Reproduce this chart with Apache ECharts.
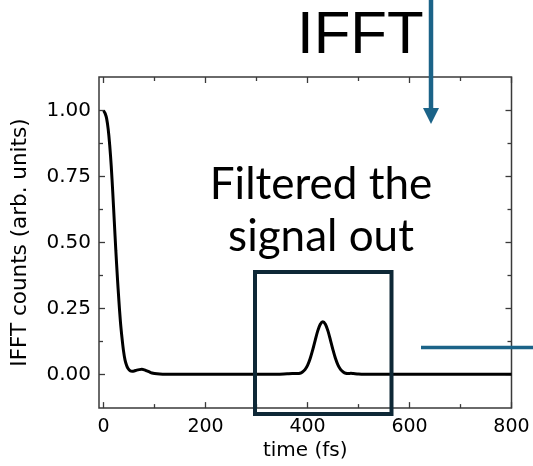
<!DOCTYPE html>
<html>
<head>
<meta charset="utf-8">
<script src="https://cdn.jsdelivr.net/npm/echarts@6/dist/echarts.min.js"></script>
<style>html,body{margin:0;padding:0;background:#fff}#c{width:533px;height:466px}</style>
</head>
<body>
<div id="c"></div>
<script>
// ---- data ----
const timeFs = [0, 3, 6, 9, 12, 15, 18, 21, 24, 27, 30, 33, 36, 39, 42, 45, 48, 52, 56, 60, 65, 70, 75, 80, 85, 90, 95, 100, 110, 120, 140, 160, 200, 250, 300, 340, 360, 370, 380, 385, 390, 395, 400, 405, 410, 415, 420, 425, 430, 435, 440, 445, 450, 455, 460, 465, 470, 475, 480, 485, 490, 500, 510, 530, 560, 600, 650, 700, 750, 800];
const ifftCounts = [1.0, 0.99, 0.97, 0.93, 0.87, 0.79, 0.69, 0.58, 0.47, 0.37, 0.28, 0.2, 0.14, 0.09, 0.055, 0.035, 0.022, 0.014, 0.012, 0.013, 0.016, 0.018, 0.019, 0.017, 0.013, 0.009, 0.005, 0.003, 0.001, 0.0, 0.0, 0.0, 0.0, 0.0, 0.0, 0.0, 0.002, 0.003, 0.003, 0.004, 0.009, 0.018, 0.034, 0.059, 0.092, 0.129, 0.165, 0.19, 0.2, 0.19, 0.165, 0.129, 0.092, 0.059, 0.034, 0.018, 0.009, 0.004, 0.003, 0.004, 0.003, 0.001, 0.0, 0.0, 0.0, 0.0, 0.0, 0.0, 0.0, 0.0];
const xMajorTicks = [0, 200, 400, 600, 800];
const xMinorTicks = [100, 300, 500, 700];
const yMajorTicks = [0, 0.25, 0.5, 0.75, 1.0];
const yMinorTicks = [0.125, 0.375, 0.625, 0.875];
const xRange = [-9, 800];
const yRange = [-0.128, 1.128];
const xTitle = 'time (fs)';
const yTitle = 'IFFT counts (arb. units)';
const bigLabel = 'IFFT';
const noteLine1 = 'Filtered the';
const noteLine2 = 'signal out';

const FONT = '"DejaVu Sans", sans-serif';
const frameColor = '#3a3a3a';
const chart = echarts.init(document.getElementById('c'), null, {renderer: 'canvas'});

function xAxisDef(pos, ticks, len, labels, extra) {
  return Object.assign({
    type: 'value', position: pos, min: xRange[0], max: xRange[1],
    axisLine: {show: false, onZero: false}, splitLine: {show: false},
    axisTick: {show: true, inside: true, length: len, customValues: ticks, lineStyle: {color: frameColor, width: 1.3}},
    axisLabel: {show: labels, customValues: ticks, color: '#000', fontSize: 19, fontFamily: FONT, margin: 9},
  }, extra || {});
}
function yAxisDef(pos, ticks, len, labels, extra) {
  return Object.assign({
    type: 'value', position: pos, min: yRange[0], max: yRange[1],
    axisLine: {show: false, onZero: false}, splitLine: {show: false},
    axisTick: {show: true, inside: true, length: len, customValues: ticks, lineStyle: {color: frameColor, width: 1.3}},
    axisLabel: {show: labels, customValues: ticks, color: '#000', fontSize: 20, fontFamily: FONT, margin: 8,
      formatter: v => v.toFixed(2)},
  }, extra || {});
}

const option = {
  animation: false,
  backgroundColor: '#fff',
  grid: {left: 99, right: 21.5, top: 77, bottom: 55, show: true, borderColor: frameColor, borderWidth: 1.5, backgroundColor: 'transparent'},
  xAxis: [
    xAxisDef('bottom', xMajorTicks, 6, true, {name: xTitle, nameLocation: 'middle', nameGap: 32,
      nameTextStyle: {color: '#000', fontSize: 20, fontFamily: FONT}}),
    xAxisDef('bottom', xMinorTicks, 4, false),
    xAxisDef('top', xMajorTicks, 6, false),
    xAxisDef('top', xMinorTicks, 4, false),
  ],
  yAxis: [
    yAxisDef('left', yMajorTicks, 6, true, {name: yTitle, nameLocation: 'middle', nameGap: 68, nameRotate: 90,
      nameTextStyle: {color: '#000', fontSize: 21.5, fontFamily: FONT}}),
    yAxisDef('left', yMinorTicks, 4, false),
    yAxisDef('right', yMajorTicks, 6, false),
    yAxisDef('right', yMinorTicks, 4, false),
  ],
  series: [{
    type: 'line', xAxisIndex: 0, yAxisIndex: 0,
    data: timeFs.map((t, i) => [t, ifftCounts[i]]),
    smooth: 0.3, showSymbol: false, symbol: 'none',
    lineStyle: {color: '#000', width: 3},
  }],
  graphic: [
    {type: 'text', position: [297, 6], style: {text: bigLabel, font: '60px "Liberation Sans", Arial, sans-serif', fill: '#000'}},
    {type: 'text', position: [321, 184.5], style: {text: noteLine1, font: '44px Lato, sans-serif', fill: '#000', align: 'center', verticalAlign: 'middle'}},
    {type: 'text', position: [321, 236.5], style: {text: noteLine2, font: '44px Lato, sans-serif', fill: '#000', align: 'center', verticalAlign: 'middle'}},
    {type: 'rect', shape: {x: 255, y: 272, width: 136.5, height: 142}, style: {fill: 'none', stroke: '#0e2836', lineWidth: 4}, z: 10},
    {type: 'line', shape: {x1: 421, y1: 347.5, x2: 533, y2: 347.5}, style: {stroke: '#1b6388', lineWidth: 3.5}, z: 10},
    {type: 'line', shape: {x1: 431, y1: 0, x2: 431, y2: 112}, style: {stroke: '#1b6388', lineWidth: 4.5}, z: 10},
    {type: 'polygon', shape: {points: [[423, 108], [439, 108], [431, 124]]}, style: {fill: '#1b6388'}, z: 10},
  ],
};
chart.setOption(option);
</script>
</body>
</html>
